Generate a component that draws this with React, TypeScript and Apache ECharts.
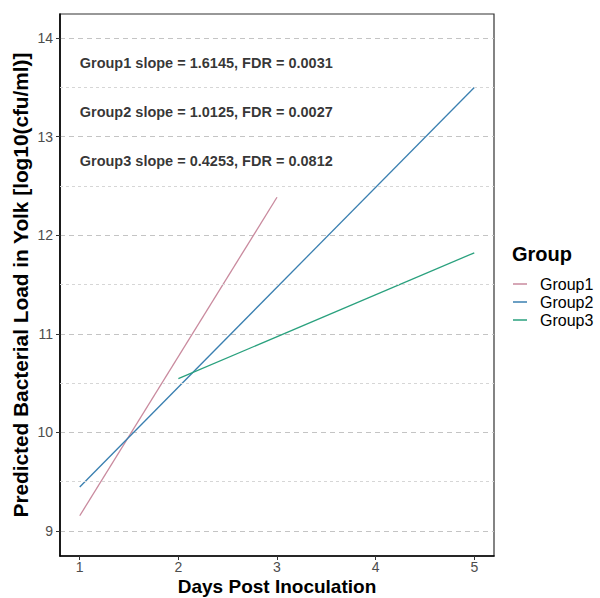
import React, { useEffect, useRef } from "react";
import * as echarts from "echarts";

const groups = ["Group1", "Group2", "Group3"];
const groupColors = ["#c98a9e", "#3a7fb0", "#2aa17e"];
const lineX = [
  [1, 3],
  [1, 5],
  [2, 5],
];
const lineY = [
  [9.155, 12.384],
  [9.447, 13.497],
  [10.545, 11.821],
];
const annotationTexts = [
  "Group1 slope = 1.6145, FDR = 0.0031",
  "Group2 slope = 1.0125, FDR = 0.0027",
  "Group3 slope = 0.4253, FDR = 0.0812",
];
const annotationX = [1, 1, 1];
const annotationY = [13.75, 13.25, 12.75];
const xTicks = [1, 2, 3, 4, 5];
const yTicks = [9, 10, 11, 12, 13, 14];
const yMinorGrid = [9.5, 10.5, 11.5, 12.5, 13.5];
const xRange = [0.8, 5.2];
const yRange = [8.747, 14.242];

export default function App() {
  const ref = useRef<HTMLDivElement>(null);
  useEffect(() => {
    if (!ref.current) return;
    const chart = echarts.init(ref.current, null, { renderer: "svg" });
    const font = "'Liberation Sans', Arial, Helvetica, sans-serif";
    const lineSeries = groups.map((g, i) => ({
      name: g,
      type: "line",
      symbol: "none",
      data: lineX[i].map((x, j) => [x, lineY[i][j]]),
      lineStyle: { color: groupColors[i], width: 1.3 },
      itemStyle: { color: groupColors[i] },
      z: 3,
    }));
    const option: any = {
      animation: false,
      backgroundColor: "#ffffff",
      textStyle: { fontFamily: font },
      grid: {
        left: 60,
        right: 106,
        top: 14,
        bottom: 42,
        containLabel: false,
        outerBoundsMode: "none",
        show: true,
        borderColor: "#333333",
        borderWidth: 1.2,
        backgroundColor: "transparent",
      },
      xAxis: {
        type: "value",
        min: xRange[0],
        max: xRange[1],
        name: "Days Post Inoculation",
        nameLocation: "middle",
        nameMoveOverlap: false,
        nameGap: 21,
        nameTextStyle: { fontSize: 19, fontWeight: "bold", color: "#000", fontFamily: font },
        axisLine: { show: true, lineStyle: { color: "#000", width: 1.6 } },
        axisTick: { show: true, length: 4, customValues: xTicks, lineStyle: { color: "#333" } },
        axisLabel: { customValues: xTicks, fontSize: 14, color: "#4d4d4d", margin: 4, fontFamily: font },
        splitLine: { show: false },
      },
      yAxis: {
        type: "value",
        min: yRange[0],
        max: yRange[1],
        name: "Predicted Bacterial Load in Yolk [log10(cfu/ml)]",
        nameLocation: "middle",
        nameMoveOverlap: false,
        nameGap: 29,
        nameTextStyle: { fontSize: 20.8, fontWeight: "bold", color: "#000", fontFamily: font },
        axisLine: { show: true, lineStyle: { color: "#000", width: 1.6 } },
        axisTick: { show: true, length: 4, customValues: yTicks, lineStyle: { color: "#333" } },
        axisLabel: { customValues: yTicks, fontSize: 14, color: "#4d4d4d", margin: 7, fontFamily: font },
        splitLine: { show: true, lineStyle: { color: "#c4c4c4", width: 1, type: [5, 4] } },
      },
      legend: {
        orient: "vertical",
        left: 513,
        top: 276,
        padding: 0,
        itemWidth: 14,
        itemHeight: 14,
        itemGap: 2,
        icon: "path://M0 0H14V1.5H0Z",
        data: groups,
        textStyle: { fontSize: 16, color: "#000", fontFamily: font, padding: [0, 0, 0, 8] },
      },
      graphic: [
        {
          type: "text",
          left: 512,
          top: 244,
          style: { text: "Group", font: `bold 20px ${font}`, fill: "#000" },
        },
      ],
      series: [
        ...lineSeries,
        {
          type: "scatter",
          name: "annotations",
          symbolSize: 0,
          silent: true,
          data: annotationY.map((y, i) => [annotationX[i], y]),
          label: {
            show: true,
            position: "right",
            distance: 0,
            formatter: (p: any) => annotationTexts[p.dataIndex],
            fontSize: 14.5,
            fontWeight: "bold",
            color: "#000",
            fontFamily: font,
          },
          markLine: {
            silent: true,
            symbol: "none",
            label: { show: false },
            lineStyle: { color: "#d6d6d6", width: 1, type: [3, 3] },
            data: yMinorGrid.map((v) => ({ yAxis: v })),
          },
          z: 2,
        },
      ],
    };
    chart.setOption(option);
    return () => chart.dispose();
  }, []);
  return (
    <div
      ref={ref}
      style={{ width: 600, height: 598, position: "fixed", left: 0, top: 0 }}
    />
  );
}
